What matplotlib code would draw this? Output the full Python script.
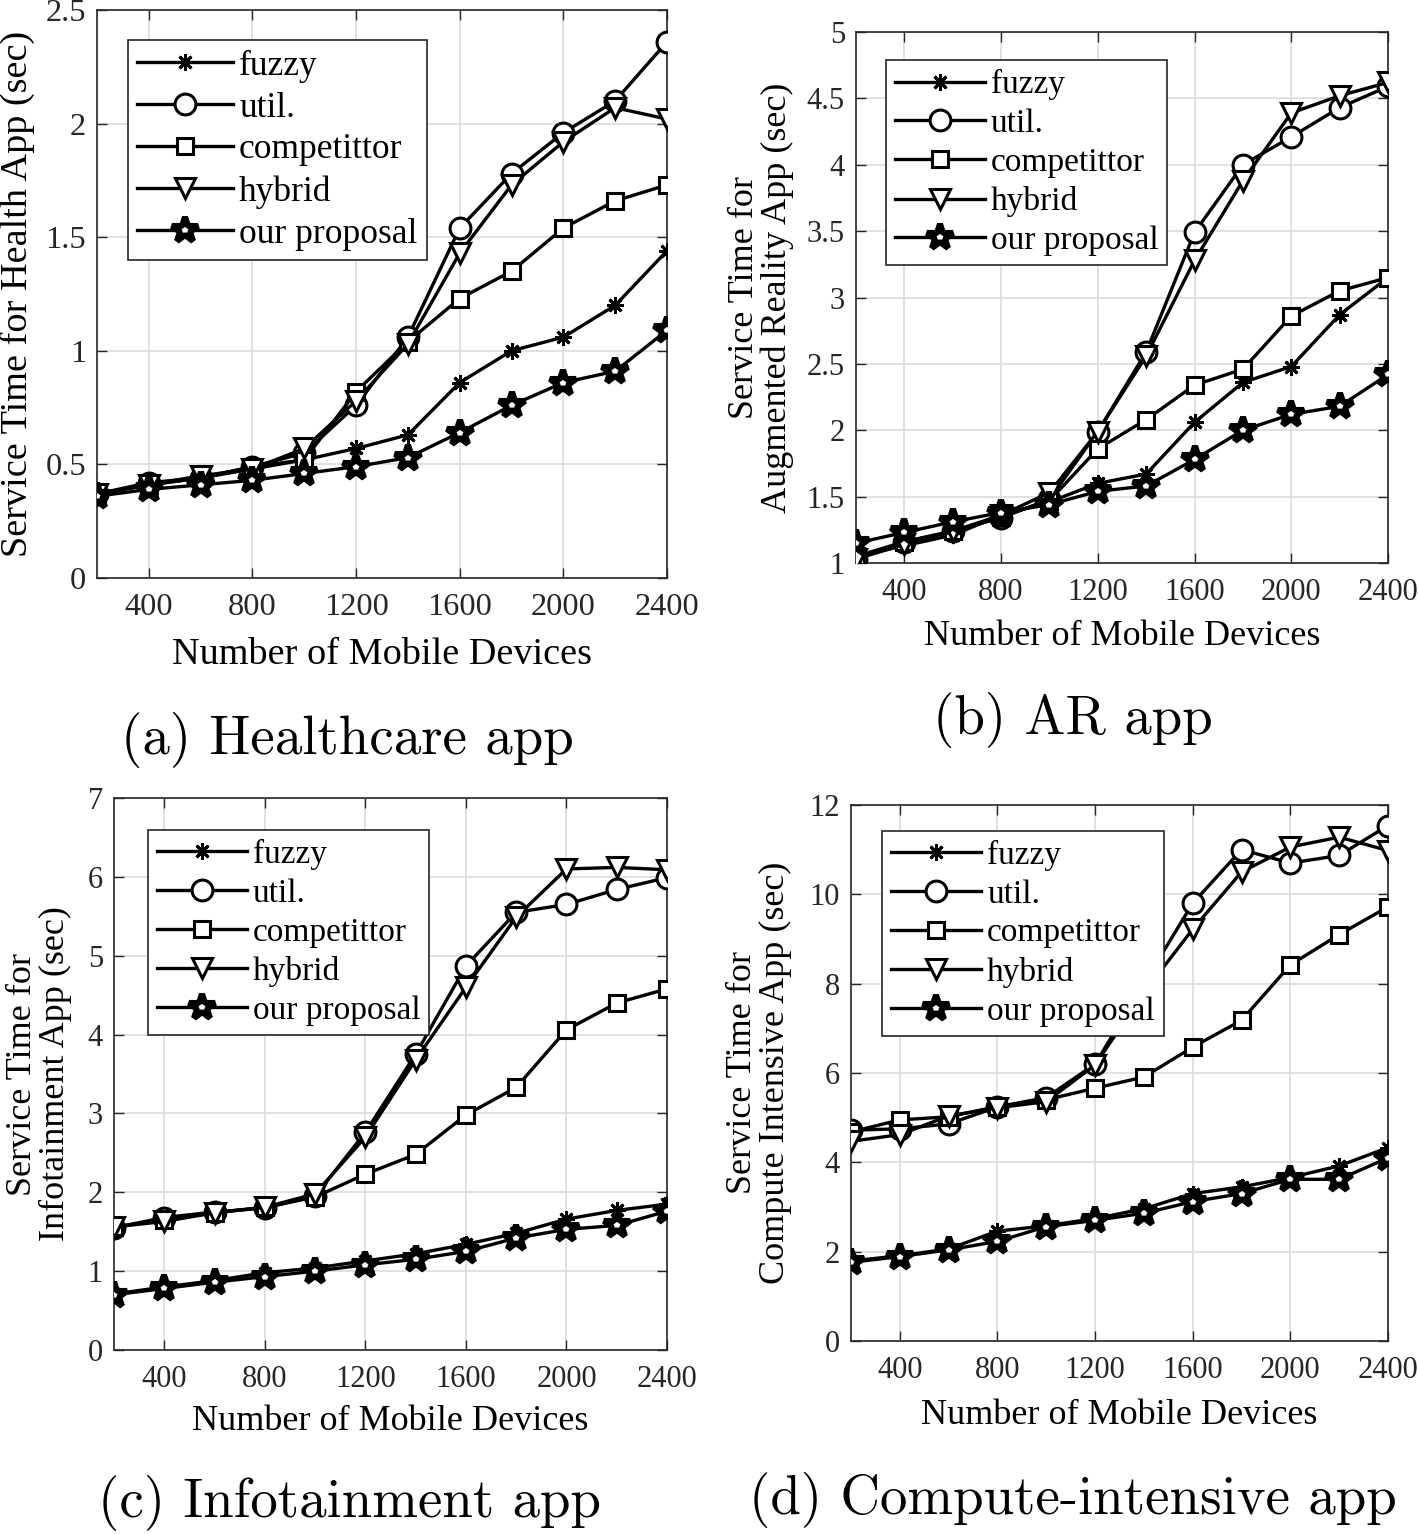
import matplotlib
matplotlib.use("Agg")
import matplotlib.pyplot as plt
from matplotlib.ticker import FuncFormatter

plt.rcParams['font.family'] = ['Liberation Serif', 'DejaVu Serif']

devices = [200, 400, 600, 800, 1000, 1200, 1400, 1600, 1800, 2000, 2200, 2400]
x_ticks = [400, 800, 1200, 1600, 2000, 2400]
series_names = ["fuzzy", "util.", "competittor", "hybrid", "our proposal"]

# (a) healthcare
health_fuzzy = [0.37, 0.41, 0.44, 0.49, 0.52, 0.57, 0.63, 0.86, 1.00, 1.06, 1.20, 1.44]
health_util = [0.37, 0.42, 0.44, 0.49, 0.55, 0.76, 1.06, 1.54, 1.78, 1.96, 2.10, 2.36]
health_comp = [0.37, 0.41, 0.44, 0.48, 0.52, 0.82, 1.04, 1.23, 1.35, 1.54, 1.66, 1.73]
health_hybrid = [0.37, 0.41, 0.45, 0.48, 0.57, 0.78, 1.03, 1.43, 1.73, 1.92, 2.07, 2.02]
health_ours = [0.36, 0.39, 0.41, 0.43, 0.46, 0.49, 0.53, 0.64, 0.76, 0.86, 0.91, 1.09]

# (b) augmented reality
ar_fuzzy = [1.05, 1.13, 1.21, 1.36, 1.46, 1.60, 1.67, 2.06, 2.36, 2.48, 2.87, 3.15]
ar_util = [1.03, 1.16, 1.24, 1.34, 1.48, 1.99, 2.59, 3.49, 4.00, 4.21, 4.43, 4.59]
ar_comp = [1.05, 1.16, 1.24, 1.35, 1.47, 1.86, 2.08, 2.34, 2.46, 2.86, 3.05, 3.15]
ar_hybrid = [1.03, 1.14, 1.24, 1.36, 1.53, 1.99, 2.56, 3.28, 3.88, 4.39, 4.52, 4.62]
ar_ours = [1.15, 1.23, 1.31, 1.38, 1.44, 1.54, 1.58, 1.78, 2.00, 2.12, 2.18, 2.42]

# (c) infotainment
info_fuzzy = [0.71, 0.80, 0.88, 0.98, 1.04, 1.13, 1.22, 1.34, 1.48, 1.66, 1.77, 1.85]
info_util = [1.55, 1.68, 1.75, 1.80, 1.95, 2.76, 3.75, 4.87, 5.55, 5.65, 5.84, 5.99]
info_comp = [1.56, 1.65, 1.74, 1.81, 1.94, 2.23, 2.48, 2.98, 3.33, 4.06, 4.40, 4.58]
info_hybrid = [1.56, 1.63, 1.74, 1.81, 1.98, 2.70, 3.68, 4.60, 5.49, 6.10, 6.12, 6.09]
info_ours = [0.70, 0.78, 0.86, 0.93, 1.00, 1.08, 1.15, 1.25, 1.42, 1.53, 1.58, 1.76]

# (d) compute intensive
comp_fuzzy = [1.79, 1.91, 2.06, 2.46, 2.58, 2.74, 2.96, 3.30, 3.45, 3.66, 3.92, 4.33]
comp_util = [4.72, 4.75, 4.86, 5.24, 5.45, 6.20, 8.00, 9.80, 11.00, 10.70, 10.87, 11.54]
comp_comp = [4.68, 4.95, 5.02, 5.25, 5.40, 5.66, 5.91, 6.58, 7.18, 8.42, 9.10, 9.72]
comp_hybrid = [4.47, 4.62, 5.04, 5.22, 5.36, 6.18, 7.80, 9.22, 10.50, 11.06, 11.28, 10.98]
comp_ours = [1.76, 1.89, 2.04, 2.23, 2.56, 2.70, 2.86, 3.12, 3.30, 3.62, 3.62, 4.10]

markers = [(8, 2, 0), 'o', 's', 'v', '*']
msizes = [12, 15, 11, 15, 19]
medges = [2.0, 2.2, 2.2, 2.2, 4.4]

W, H = 1418, 1534
fig = plt.figure(figsize=(W / 100, H / 100), dpi=100)


def add_panel(l, t, r, b, series, ylim, yticks, ylabel, ylab_x, leg_anchor, xlab_y,
              caption, cap_xy, fs=1.0):
    ax = fig.add_axes([l / W, 1 - b / H, (r - l) / W, (b - t) / H])
    for i, ys in enumerate(series):
        ax.plot(devices, ys, color='black', lw=2.4, marker=markers[i], ms=msizes[i],
                mfc='white', mec='black', mew=medges[i], label=series_names[i], zorder=3)
    ax.set_xlim(200, 2400)
    ax.set_ylim(*ylim)
    ax.set_xticks(x_ticks)
    ax.set_yticks(yticks)
    ax.yaxis.set_major_formatter(FuncFormatter(lambda v, p: '%g' % v))
    ax.grid(True, color='#dcdcdc', lw=1.2)
    ax.set_axisbelow(True)
    ax.tick_params(direction='in', top=True, right=True, length=7, width=1,
                   labelsize=22 * fs, colors='#262626', labelcolor='#262626')
    ax.tick_params(axis='x', pad=11)
    ax.tick_params(axis='y', pad=8)
    for s in ax.spines.values():
        s.set_color('#262626')
        s.set_linewidth(1.2)
    ax.set_ylabel(ylabel, fontsize=26 * fs, linespacing=1.0)
    ax.yaxis.label.set_va('center')
    ax.yaxis.set_label_coords(ylab_x, 0.5)
    ax.set_xlabel("Number of Mobile Devices", fontsize=26 * fs)
    ax.xaxis.label.set_va('center')
    ax.xaxis.set_label_coords(0.5, 1 - (xlab_y - t) / (b - t))
    leg = ax.legend(loc='upper left', bbox_to_anchor=leg_anchor, borderaxespad=0,
                    fontsize=24 * fs, handlelength=2.7, handletextpad=0.18, labelspacing=0.25,
                    borderpad=0.27, fancybox=False, framealpha=1, edgecolor='#262626')
    leg.get_frame().set_linewidth(1.2)
    fig.text(cap_xy[0] / W, 1 - cap_xy[1] / H, caption, fontsize=39.5,
             family=['cmr10', 'DejaVu Serif'], ha='center', va='center')
    return ax


add_panel(97, 10, 667, 578,
          [health_fuzzy, health_util, health_comp, health_hybrid, health_ours],
          (0, 2.5), [0, 0.5, 1, 1.5, 2, 2.5],
          "Service Time for Health App (sec)", -0.139, (0.054, 0.947), 655,
          "(a) Healthcare app", (347, 740), fs=1.06)

add_panel(856, 32, 1388, 563,
          [ar_fuzzy, ar_util, ar_comp, ar_hybrid, ar_ours],
          (1, 5), [1, 1.5, 2, 2.5, 3, 3.5, 4, 4.5, 5],
          "Service Time for\nAugmented Reality App (sec)", -0.179, (0.056, 0.947), 636,
          "(b) AR app", (1073, 720))

add_panel(114, 798, 667, 1350,
          [info_fuzzy, info_util, info_comp, info_hybrid, info_ours],
          (0, 7), [0, 1, 2, 3, 4, 5, 6, 7],
          "Service Time for\nInfotainment App (sec)", -0.136, (0.061, 0.942), 1422,
          "(c) Infotainment app", (350, 1503))

add_panel(851, 805, 1388, 1341,
          [comp_fuzzy, comp_util, comp_comp, comp_hybrid, comp_ours],
          (0, 12), [0, 2, 4, 6, 8, 10, 12],
          "Service Time for\nCompute Intensive App (sec)", -0.171, (0.058, 0.952), 1416,
          "(d) Compute-intensive app", (1073, 1500))

fig.savefig("out.png", dpi=100)
